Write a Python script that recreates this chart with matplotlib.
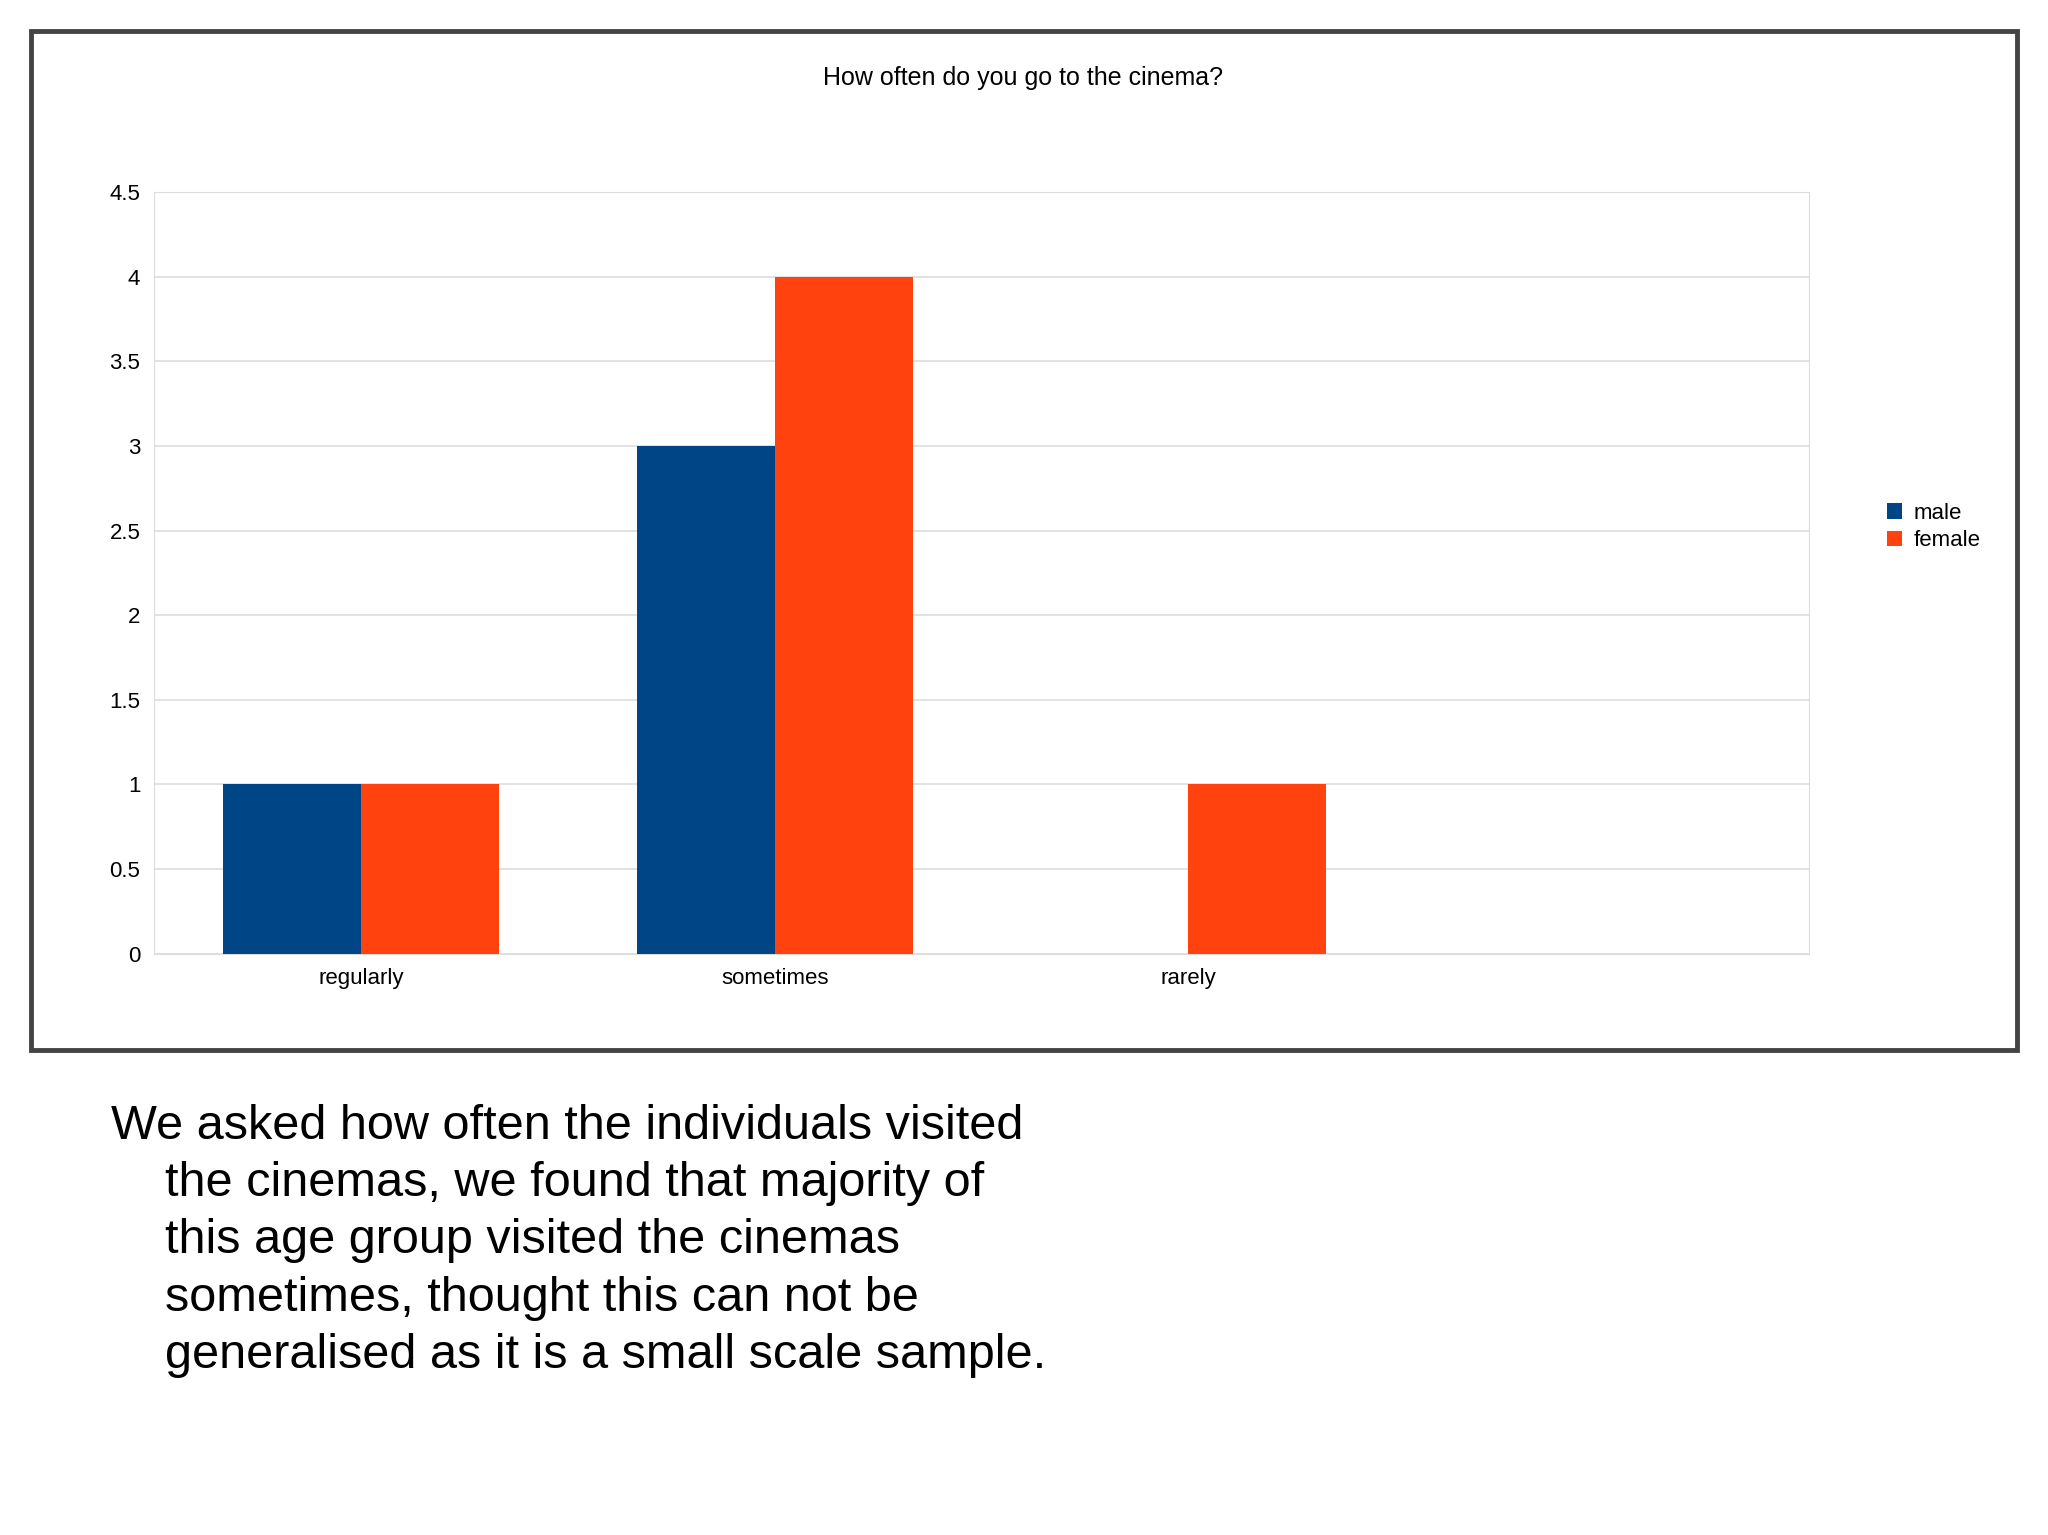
import matplotlib
matplotlib.use("Agg")
import matplotlib.pyplot as plt
from matplotlib.patches import Rectangle
import numpy as np

plt.rcParams['font.family'] = ['Liberation Sans', 'DejaVu Sans']

categories = ["regularly", "sometimes", "rarely", ""]
male = [1, 3, 0, 0]
female = [1, 4, 1, 0]
yticks = [0, 0.5, 1, 1.5, 2, 2.5, 3, 3.5, 4, 4.5]

fig = plt.figure(figsize=(20.48, 15.35), dpi=100)
fig.patch.set_facecolor("white")

# outer frame around chart
fig.patches.append(Rectangle((0.0153, 0.3157), 0.9694, 0.6639, transform=fig.transFigure,
                             fill=False, edgecolor="#444444", linewidth=3.5))

ax = fig.add_axes([0.0753, 0.3787, 0.808, 0.4962])
x = np.arange(len(categories))
w = 0.333
ax.bar(x - w / 2, male, w, color="#004586", label="male", zorder=3)
ax.bar(x + w / 2, female, w, color="#ff420e", label="female", zorder=3)

ax.set_xlim(-0.5, 3.5)
ax.set_ylim(0, 4.5)
ax.set_yticks(yticks)
ax.set_yticklabels([f"{v:g}" for v in yticks], fontsize=16)
ax.set_xticks(x)
ax.set_xticklabels(categories, fontsize=16)
ax.tick_params(axis="both", length=0, pad=10)
ax.grid(axis="y", color="#dddddd", linewidth=1.2, zorder=0)
for s in ax.spines.values():
    s.set_color("#dddddd")

fig.text(0.4994, 0.949, "How often do you go to the cinema?", ha="center", va="center", fontsize=18)

ax.legend(loc="center left", bbox_to_anchor=(1.035, 0.56), frameon=False, fontsize=16,
          handlelength=0.7, handleheight=0.7, handletextpad=0.5, labelspacing=0.3)

lines = ["We asked how often the individuals visited",
         "    the cinemas, we found that majority of",
         "    this age group visited the cinemas",
         "    sometimes, thought this can not be",
         "    generalised as it is a small scale sample."]
for i, ln in enumerate(lines):
    fig.text(0.054, 0.2664 - i * 0.0374, ln, fontsize=35, va="center", ha="left")

fig.savefig("out.png", dpi=100, facecolor="white")
